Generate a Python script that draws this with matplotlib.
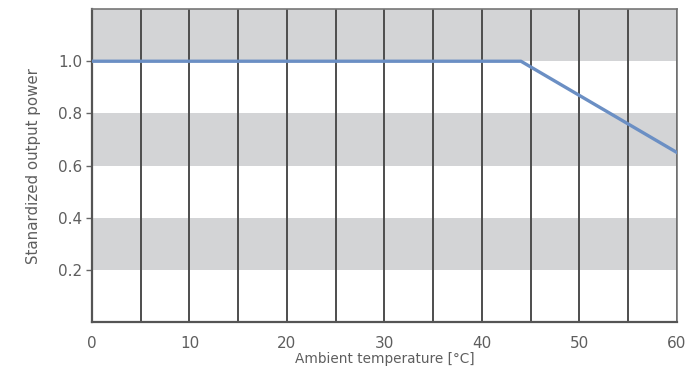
import matplotlib
matplotlib.use("Agg")
import matplotlib.pyplot as plt

# Derating curve
temp = [0, 44, 60]
power = [1.0, 1.0, 0.65]

band_ranges = [(0.2, 0.4), (0.6, 0.8), (1.0, 1.2)]
grid_x = list(range(0, 61, 5))
x_ticks = [0, 10, 20, 30, 40, 50, 60]
y_ticks = [0.2, 0.4, 0.6, 0.8, 1.0]

text_color = "#5e5e5e"

fig = plt.figure(figsize=(6.89, 3.78), dpi=100)
ax = fig.add_axes([0.1335, 0.148, 0.849, 0.828])

for lo, hi in band_ranges:
    ax.axhspan(lo, hi, color="#d3d4d6", lw=0, zorder=0)

for x in grid_x:
    ax.axvline(x, color="#4d4d4d", lw=1.4, zorder=1)

ax.plot(temp, power, color="#6b8fc4", lw=2.4, zorder=3)

ax.set_xlim(0, 60)
ax.set_ylim(0, 1.2)
ax.set_xticks(x_ticks)
ax.set_yticks(y_ticks)
ax.set_yticklabels([f"{v:.1f}" for v in y_ticks])
ax.tick_params(axis="x", length=0, pad=10, labelsize=11, labelcolor=text_color)
ax.tick_params(axis="y", length=4, width=1, color="#666666", pad=3,
               labelsize=11, labelcolor=text_color)

for side in ["left", "bottom"]:
    ax.spines[side].set_color("#555555")
    ax.spines[side].set_linewidth(1.6)
for side in ["top", "right"]:
    ax.spines[side].set_color("#777777")
    ax.spines[side].set_linewidth(1.2)

ax.set_xlabel("Ambient temperature [°C]", fontsize=9.8, color=text_color, labelpad=1)
ax.set_ylabel("Stanardized output power", fontsize=10.8, color=text_color, labelpad=12)

fig.savefig("out.png", dpi=100)
